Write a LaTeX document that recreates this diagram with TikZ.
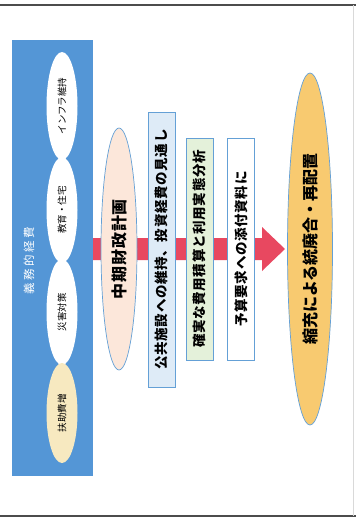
\documentclass[tikz,border=0pt]{standalone}
\usepackage{fontspec}
\usetikzlibrary{shapes.geometric}
\newfontfamily\jp{Noto Sans CJK JP}
\newfontfamily\jpsp[LetterSpace=5]{Noto Sans CJK JP}
\newfontfamily\jpwide[LetterSpace=22]{Noto Sans CJK JP}
\definecolor{blueband}{RGB}{84,150,214}
\definecolor{arrowred}{RGB}{232,72,96}
\definecolor{peach}{RGB}{252,231,218}
\definecolor{paleblue}{RGB}{222,235,247}
\definecolor{palegreen}{RGB}{228,241,218}
\definecolor{edgeblue}{RGB}{100,160,214}
\definecolor{gold}{RGB}{248,202,112}
\definecolor{paleyellow}{RGB}{247,233,192}
\tikzset{
  small ell/.style={ellipse, rotate=90, minimum width=106pt, minimum height=31pt, inner sep=0pt, fill=white, font=\jp\fontsize{9.5}{10}\selectfont},
  infobox/.style={rectangle, rotate=90, draw=edgeblue, line width=0.8pt, inner sep=0pt, minimum height=27pt, font=\jpsp\bfseries\fontsize{13.5}{14}\selectfont},
  big ell/.style={ellipse, rotate=90, draw=edgeblue, line width=0.7pt, inner sep=0pt, font=\jp\bfseries\fontsize{16}{17}\selectfont}
}
\begin{document}
\begin{tikzpicture}[x=1pt,y=-1pt]
\useasboundingbox (0,0) rectangle (356,517);
\fill[white] (0,0) rectangle (356,517);
% page borders
\draw[line width=1.6pt, black!70] (0,5) -- (356,5);
\draw[line width=1.6pt, black!70] (0,516) -- (356,516);
\draw[line width=0.6pt, black!15] (353,5) -- (353,516);
% blue band
\node[fill=blueband, minimum width=81pt, minimum height=436pt, inner sep=0pt] (band) at (52.5,258) {};
\node[small ell, minimum width=108pt] (infra) at (62,106) {インフラ維持};
\node[small ell] (edu) at (62,210) {教育・住宅};
\node[small ell] (disaster) at (62,312) {災害対策};
\node[small ell, fill=paleyellow, minimum width=100pt] (aid) at (62,413) {扶助費増};
\node[rotate=90, text=white, inner sep=0pt, font=\jpwide\fontsize{11.5}{12}\selectfont] (duty) at (29,261) {義務的経費};
% red block arrow
\coordinate (tip) at (285,249);
\fill[arrowred] (band.east |- 0,238) -- (262,238) -- (262,227) -- (tip) -- (262,271) -- (262,260) -- (band.east |- 0,260) -- cycle;
% mid-term plan ellipse
\node[big ell, fill=peach, minimum width=242pt, minimum height=36pt, font=\jpsp\bfseries\fontsize{16}{17}\selectfont] (plan) at (119,249) {中期財政計画};
% info boxes
\node[infobox, fill=paleblue, minimum width=275pt] (box1) at (161.5,249.5) {公共施設への維持、投資経費の見通し};
\node[infobox, fill=palegreen, minimum width=222pt] (box2) at (199.5,249) {確実な費用積算と利用実態分析};
\node[infobox, fill=white, minimum width=222pt] (box3) at (241,249) {予算要求への添付資料に};
% result ellipse
\node[big ell, fill=gold, minimum width=352pt, minimum height=45pt] (result) at (310,249) {縮充による統廃合・再配置};
\end{tikzpicture}
\end{document}
